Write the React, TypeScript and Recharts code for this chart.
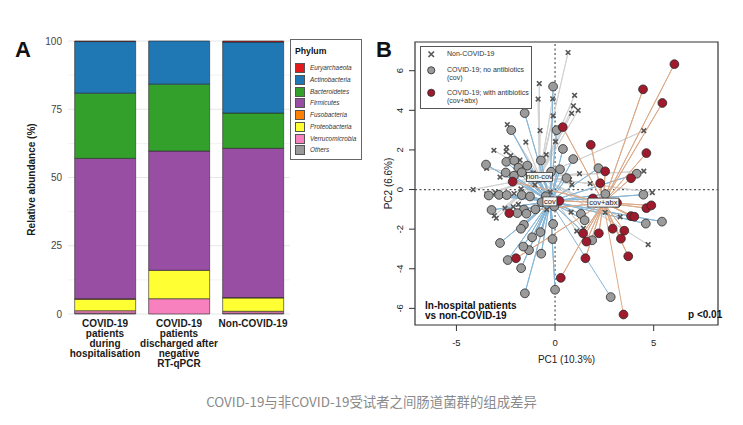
import {
  BarChart,
  Bar,
  XAxis,
  YAxis,
  CartesianGrid,
  ScatterChart,
  Scatter,
  ReferenceLine,
  ReferenceArea,
} from "recharts";

const FONT = '"Liberation Sans", Arial, Helvetica, sans-serif';

// ---- panel A: relative abundance (%) per group
const GROUPS = [
  "COVID-19\npatients\nduring\nhospitalisation",
  "COVID-19\npatients\ndischarged after\nnegative\nRT-qPCR",
  "Non-COVID-19",
];
const PHYLA = [
  "Euryarchaeota",
  "Actinobacteria",
  "Bacteroidetes",
  "Firmicutes",
  "Fusobacteria",
  "Proteobacteria",
  "Verrucomicrobia",
  "Others",
];
const PHYLUM_COLORS = ["#e41a1c", "#1f77b4", "#33a02c", "#984ea3", "#ff7f00", "#ffff33", "#f781bf", "#999999"];

const EURYARCHAEOTA = [0.2, 0, 0.4];
const ACTINOBACTERIA = [18.9, 15.8, 26.0];
const BACTEROIDETES = [23.9, 24.5, 12.9];
const FIRMICUTES = [51.4, 43.7, 54.7];
const FUSOBACTERIA = [0.2, 0, 0.1];
const PROTEOBACTERIA = [4.2, 10.4, 4.9];
const VERRUCOMICROBIA = [0.9, 5.6, 0.7];
const OTHERS = [0.3, 0, 0.3];
const ABUNDANCE = [EURYARCHAEOTA, ACTINOBACTERIA, BACTEROIDETES, FIRMICUTES, FUSOBACTERIA, PROTEOBACTERIA, VERRUCOMICROBIA, OTHERS];

const A_TICKS = [0, 25, 50, 75, 100];
const A_MINOR = [12.5, 37.5, 62.5, 87.5];

// ---- panel B: PCA scores (PC1, PC2)
const NONCOV_CENTRE = [-0.79, 0.64];
const COV_CENTRE = [-0.26, -0.6];
const ABX_CENTRE = [2.45, -0.66];

const NONCOV_PC = [
  [0.66, 6.92], [-0.8, 5.35], [-0.86, 4.57], [-0.12, 4.58], [0.99, 4.76], [0.93, 4.23], [1.17, 4.0],
  [0.84, 3.85], [-0.1, 3.72], [-2.42, 3.28], [-0.76, 2.98], [0.02, 2.42], [-1.48, 2.39], [-3.1, 1.98],
  [-2.46, 2.12], [-2.48, 1.92], [-0.45, 1.76], [-2.25, 1.71], [-1.78, 1.49], [4.5, 2.97], [-3.47, 1.07],
  [-1.95, 1.17], [-1.1, 0.84], [-0.63, 0.5], [0.73, 0.5], [1.24, 0.8], [1.78, 0.3], [4.5, 0.93],
  [-4.15, 0.0], [-3.46, -0.22], [-3.02, -0.15], [-2.08, -0.2], [-1.73, 0.03], [-1.02, 0.23], [4.93, -0.15],
  [-3.08, -1.32], [-2.98, -1.45], [-2.54, -0.94], [-1.86, -0.75], [-2.12, -0.87], [-0.42, -1.01],
  [0.81, -1.14], [2.54, -1.15], [3.3, -1.38], [1.1, -2.1], [1.44, -1.96], [4.72, -2.78], [0.85, 0.25],
  [-0.25, -0.13], [-2.79, 0.63],
];

const COV_PC = [
  [-0.1, 5.2], [-1.54, 3.86], [-2.22, 3.0], [0.08, 3.0], [-3.5, 1.26], [-2.47, 1.4], [-2.07, 1.46],
  [-0.72, 1.47], [0.4, 2.05], [0.92, 1.54], [-1.41, 1.21], [-1.86, 1.1], [0.25, 1.02], [-0.2, 0.9],
  [-2.5, 0.86], [-2.08, 0.7], [-1.69, 0.87], [-0.83, 0.59], [0.58, 0.58], [2.2, 1.08], [4.14, 0.8],
  [2.55, -0.23], [4.48, -0.26], [-3.36, -0.3], [-2.84, -0.27], [-2.45, -0.28], [-1.69, -0.28],
  [-1.27, -0.35], [-0.47, -0.34], [-0.68, -0.64], [-0.04, -0.85], [-3.22, -1.03], [-1.58, -1.01],
  [-1.0, -1.0], [-1.91, -1.19], [-1.45, -1.22], [1.31, -1.23], [1.5, -1.55], [4.6, -1.72], [5.42, -1.62],
  [-1.58, -1.78], [-1.73, -1.98], [-0.1, -1.74], [-0.74, -2.15], [-1.16, -2.41], [-1.32, -3.06],
  [-1.61, -2.88], [-2.79, -2.7], [-2.4, -3.56], [-1.72, -3.97], [-0.7, -3.24], [-0.13, -2.5],
  [1.88, -2.56], [-1.53, -5.24], [0.0, -5.06], [2.82, -5.43],
];

const ABX_PC = [
  [6.05, 6.33], [4.46, 5.06], [5.44, 4.37], [0.39, 3.15], [1.81, 2.26], [4.63, 1.84], [2.54, 0.92],
  [3.85, 0.57], [2.29, 0.32], [-2.15, 0.4], [0.22, -0.57], [1.92, -0.45], [3.14, -0.67], [4.63, -0.94],
  [4.88, -0.8], [3.85, -1.34], [4.02, -1.37], [-2.32, -1.19], [2.92, -1.98], [3.51, -2.08], [1.42, -2.21],
  [2.22, -2.21], [3.34, -2.48], [1.59, -2.63], [3.71, -3.37], [1.54, -3.47], [-1.98, -3.47], [0.29, -4.46],
  [3.47, -6.31],
];

const PC1_TICKS = [-5, 0, 5];
const PC2_TICKS = [-6, -4, -2, 0, 2, 4, 6];
const PC1_DOMAIN = [-7.1, 8.26];
const PC2_DOMAIN = [-6.84, 7.45];

const abundanceRows = GROUPS.map((group, i) => {
  const row: Record<string, string | number> = { group };
  PHYLA.forEach((p, k) => { row[p] = ABUNDANCE[k][i]; });
  return row;
});

const toXY = (pts: number[][]) => pts.map(([x, y]) => ({ x, y }));
// centre -> point -> centre -> point ... drawn as one polyline gives the spider
const spokes = (c: number[], pts: number[][]) =>
  pts.flatMap(([x, y]) => [{ x: c[0], y: c[1] }, { x, y }]);

function GroupTick(props: any) {
  const { x, y, payload } = props;
  const lines = String(payload.value).split("\n");
  return (
    <text x={x} y={y} textAnchor="middle" fontSize={10} fontWeight={700} fill="#1a1a1a" fontFamily={FONT}>
      {lines.map((l, i) => (
        <tspan key={i} x={x} dy={i === 0 ? 12.5 : 10.2}>{l}</tspan>
      ))}
    </text>
  );
}

function PcYTick(props: any) {
  const { x, y, payload } = props;
  const bx = x - 6;
  return (
    <text x={bx} y={y} transform={`rotate(-90 ${bx} ${y})`} textAnchor="middle" fontSize={9.5} fill="#222" fontFamily={FONT}>
      {payload.value}
    </text>
  );
}

const Hidden = () => <g />;
const dot = (fill: string) => (p: any) => (
  <circle cx={p.cx} cy={p.cy} r={4.4} fill={fill} stroke="#2a2a2a" strokeWidth={0.8} />
);
const cross = (p: any) => {
  const s = 2.3;
  return (
    <path
      d={`M${p.cx - s},${p.cy - s}L${p.cx + s},${p.cy + s}M${p.cx - s},${p.cy + s}L${p.cx + s},${p.cy - s}`}
      stroke="#555"
      strokeWidth={1.6}
    />
  );
};
const centreTag = (text: string, w: number) => (p: any) => (
  <g>
    <rect x={p.cx - w / 2} y={p.cy - 4.5} width={w} height={9} fill="#f5f5f5" stroke="#333" strokeWidth={0.8} />
    <text x={p.cx} y={p.cy} dy="0.35em" textAnchor="middle" fontSize={7.5} fill="#222" fontFamily={FONT}>
      {text}
    </text>
  </g>
);

const abs = (left: number, top: number, extra: React.CSSProperties = {}): React.CSSProperties => ({
  position: "absolute",
  left,
  top,
  fontFamily: FONT,
  whiteSpace: "nowrap",
  ...extra,
});

export default function App() {
  return (
    <div style={{ position: "absolute", left: 0, top: 0, width: 743, height: 425, background: "#fff", overflow: "hidden" }}>
      {/* panel A */}
      <div style={abs(0, 0)}>
        <BarChart
          width={370}
          height={380}
          data={abundanceRows}
          margin={{ top: 41, right: 80, bottom: 6, left: 38 }}
          barCategoryGap="9%"
        >
          <CartesianGrid vertical={false} horizontalValues={A_MINOR} stroke="#f2f2f2" />
          <CartesianGrid vertical={false} horizontalValues={A_TICKS} stroke="#e6e6e6" />
          <XAxis
            dataKey="group"
            interval={0}
            tickLine={false}
            axisLine={false}
            tickSize={0}
            tickMargin={0}
            height={60}
            tick={(p: any) => <GroupTick {...p} />}
          />
          <YAxis
            domain={[0, 100]}
            ticks={A_TICKS}
            width={30}
            tickLine={false}
            axisLine={false}
            tickSize={0}
            tickMargin={6}
            tick={{ fontSize: 10, fill: "#444", fontFamily: FONT }}
            label={{
              content: (p: any) => {
                const vb = p.viewBox;
                const cx = vb.x - 3.4;
                const cy = vb.y + vb.height / 2 + 2;
                return (
                  <text x={cx} y={cy} transform={`rotate(-90 ${cx} ${cy})`} textAnchor="middle" fontSize={10} fontWeight={700} fill="#1a1a1a" fontFamily={FONT}>
                    Relative abundance (%)
                  </text>
                );
              },
            }}
          />
          {[...PHYLA].reverse().map((p) => (
            <Bar
              key={p}
              dataKey={p}
              stackId="a"
              fill={PHYLUM_COLORS[PHYLA.indexOf(p)]}
              stroke="#262626"
              strokeWidth={0.6}
              isAnimationActive={false}
            />
          ))}
        </BarChart>
      </div>

      <div style={abs(15, 39, { fontSize: 22, fontWeight: 700, lineHeight: "22px", color: "#111" })}>A</div>

      <div style={abs(290, 39, { width: 72, height: 121, border: "1px solid #666", boxSizing: "border-box", background: "#fff" })}>
        <div style={abs(4, 7, { fontSize: 8.7, fontWeight: 700, lineHeight: "9px", color: "#111" })}>Phylum</div>
        {PHYLA.map((p, i) => (
          <div key={p}>
            <div
              style={abs(4, 23.3 + i * 11.7, {
                width: 10,
                height: 10,
                boxSizing: "border-box",
                background: PHYLUM_COLORS[i],
                border: "0.8px solid #555",
              })}
            />
            <div style={abs(19, 23.3 + i * 11.7, { fontSize: 6.4, lineHeight: "10px", fontStyle: "italic", color: "#333" })}>{p}</div>
          </div>
        ))}
      </div>

      {/* panel B */}
      <div style={abs(370, 0)}>
        <ScatterChart width={373} height={380} margin={{ top: 42, right: 25, bottom: 15, left: 15 }}>
          <XAxis
            type="number"
            dataKey="x"
            domain={PC1_DOMAIN}
            ticks={PC1_TICKS}
            allowDataOverflow
            axisLine={false}
            tickSize={6}
            tickMargin={8}
            tickLine={{ stroke: "#333" }}
            tick={{ fontSize: 9.5, fill: "#222", fontFamily: FONT }}
            height={40}
            label={{
              content: (p: any) => {
                const vb = p.viewBox;
                return (
                  <text x={vb.x + vb.width / 2} y={vb.y + 38} textAnchor="middle" fontSize={10} fill="#222" fontFamily={FONT}>
                    PC1 (10.3%)
                  </text>
                );
              },
            }}
          />
          <YAxis
            type="number"
            dataKey="y"
            domain={PC2_DOMAIN}
            ticks={PC2_TICKS}
            allowDataOverflow
            axisLine={false}
            width={30}
            tickSize={6}
            tickMargin={0}
            tickLine={{ stroke: "#333" }}
            tick={(p: any) => <PcYTick {...p} />}
            label={{
              content: (p: any) => {
                const vb = p.viewBox;
                const cx = vb.x + 6.5;
                const cy = vb.y + vb.height / 2;
                return (
                  <text x={cx} y={cy} transform={`rotate(-90 ${cx} ${cy})`} textAnchor="middle" fontSize={10} fill="#222" fontFamily={FONT}>
                    PC2 (6.6%)
                  </text>
                );
              },
            }}
          />
          <ReferenceLine x={0} stroke="#555" strokeWidth={1.2} strokeDasharray="2 2.5" />
          <ReferenceLine y={0} stroke="#555" strokeWidth={1.2} strokeDasharray="2 2.5" />

          <Scatter data={spokes(NONCOV_CENTRE, NONCOV_PC)} fill="#d2d2d2" line={{ stroke: "#d2d2d2", strokeWidth: 1 }} shape={Hidden} isAnimationActive={false} />
          <Scatter data={spokes(COV_CENTRE, COV_PC)} fill="#88b6d6" line={{ stroke: "#88b6d6", strokeWidth: 1 }} shape={Hidden} isAnimationActive={false} />
          <Scatter data={spokes(ABX_CENTRE, ABX_PC)} fill="#dcaa88" line={{ stroke: "#dcaa88", strokeWidth: 1 }} shape={Hidden} isAnimationActive={false} />

          <Scatter data={toXY(NONCOV_PC)} fill="#555" shape={cross} isAnimationActive={false} />
          <Scatter data={toXY(COV_PC)} fill="#9b9b9b" shape={dot("#9b9b9b")} isAnimationActive={false} />
          <Scatter data={toXY(ABX_PC)} fill="#9e1a2c" shape={dot("#9e1a2c")} isAnimationActive={false} />

          <Scatter data={toXY([NONCOV_CENTRE])} fill="#f5f5f5" shape={centreTag("non-cov", 26)} isAnimationActive={false} />
          <Scatter data={toXY([COV_CENTRE])} fill="#f5f5f5" shape={centreTag("cov", 14)} isAnimationActive={false} />
          <Scatter data={toXY([ABX_CENTRE])} fill="#f5f5f5" shape={centreTag("cov+abx", 31)} isAnimationActive={false} />

          <ReferenceArea
            x1={PC1_DOMAIN[0]}
            x2={PC1_DOMAIN[1]}
            y1={PC2_DOMAIN[0]}
            y2={PC2_DOMAIN[1]}
            fill="none"
            fillOpacity={0}
            stroke="#333"
            strokeWidth={1.2}
            ifOverflow="visible"
          />
        </ScatterChart>
      </div>

      <div style={abs(376, 39, { fontSize: 22, fontWeight: 700, lineHeight: "22px", color: "#111" })}>B</div>

      <div style={abs(420, 46, { width: 112, height: 63, border: "1px solid #555", boxSizing: "border-box", background: "#fff" })}>
        <svg style={abs(0, 0)} width={110} height={61}>
          <path d="M7.5,4.5L13,10M7.5,10L13,4.5" stroke="#555" strokeWidth={1.6} />
          <circle cx={10.2} cy={23.3} r={3.6} fill="#9b9b9b" stroke="#2a2a2a" strokeWidth={0.8} />
          <circle cx={10.2} cy={45.8} r={3.6} fill="#9e1a2c" stroke="#2a2a2a" strokeWidth={0.8} />
        </svg>
        <div style={abs(26, 3, { fontSize: 7, lineHeight: "8px", color: "#333" })}>Non-COVID-19</div>
        <div style={abs(26, 19, { fontSize: 7, lineHeight: "8px", color: "#333" })}>
          COVID-19; no antibiotics
          <br />
          (cov)
        </div>
        <div style={abs(26, 41.5, { fontSize: 7, lineHeight: "8px", color: "#333" })}>
          COVID-19; with antibiotics
          <br />
          (cov+abx)
        </div>
      </div>

      <div style={abs(425, 300.5, { fontSize: 10, fontWeight: 700, lineHeight: "10px", color: "#111" })}>
        In-hospital patients
        <br />
        vs non-COVID-19
      </div>
      <div style={abs(688, 309.5, { fontSize: 10, fontWeight: 700, lineHeight: "10px", color: "#111" })}>p &lt;0.01</div>

      <div
        style={abs(0, 394, {
          width: 743,
          textAlign: "center",
          fontFamily: '"Noto Sans CJK SC", "Noto Sans", sans-serif',
          fontSize: 13.4,
          lineHeight: "15px",
          color: "#8a8a8a",
        })}
      >
        COVID-19与非COVID-19受试者之间肠道菌群的组成差异
      </div>
    </div>
  );
}
